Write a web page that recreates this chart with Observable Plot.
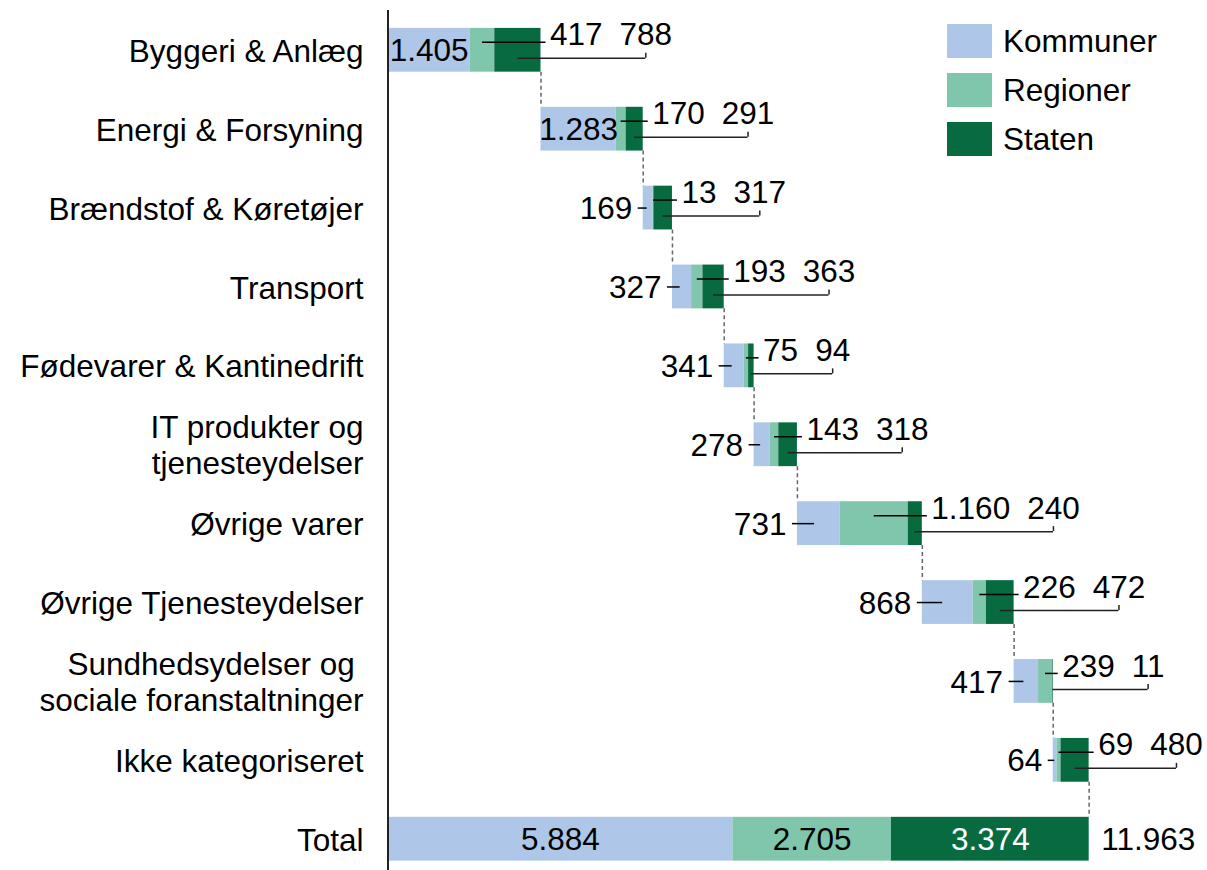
<!DOCTYPE html>
<html><head><meta charset="utf-8">
<script src="https://cdn.jsdelivr.net/npm/d3@7"></script>
<script src="https://cdn.jsdelivr.net/npm/@observablehq/plot@0.6"></script>
<style>
body{margin:0;background:#fff;font-family:"Liberation Sans",Arial,sans-serif;}
#wrap{position:relative;width:1207px;height:870px;}
#legend{position:absolute;left:947px;top:24px;}
.item{display:flex;align-items:center;height:34px;margin-bottom:15px;font-size:31.5px;color:#000;line-height:34px;}
.sw{width:45px;height:34px;margin-right:11px;}
</style></head><body><div id="wrap"><div id="chart"></div><div id="legend"></div></div>
<script>
// ---- data ----
const categories = ["Byggeri & Anlæg", "Energi & Forsyning", "Brændstof & Køretøjer", "Transport",
  "Fødevarer & Kantinedrift", "IT produkter og\ntjenesteydelser", "Øvrige varer",
  "Øvrige Tjenesteydelser", "Sundhedsydelser og\u00a0\nsociale foranstaltninger", "Ikke kategoriseret"];
const totalCategory = "Total";
const series = ["Kommuner", "Regioner", "Staten"];
const kommuner = [1405, 1283, 169, 327, 341, 278, 731, 868, 417, 64];
const regioner = [417, 170, 13, 193, 75, 143, 1160, 226, 239, 69];
const staten   = [788, 291, 317, 363, 94, 318, 240, 472, 11, 480];
const totals = [5884, 2705, 3374];
const grandTotal = 11963;
const colors = ["#AEC7E8", "#7FC6AC", "#086B40"];
const totalLabelColors = ["#000", "#000", "#fff"];

// ---- layout ----
const W = 1207, H = 870, mL = 387.5, mR = 118.3, mT = 20, mB = 1.5;
const pi = 0.445, po = 0.1;
const nRows = categories.length + 1;
const step = (H - mT - mB) / (nRows - pi + 2 * po);
const bw = step * (1 - pi);
const FS = 31.5;
const FONT = "'Liberation Sans', Arial, sans-serif";

const fmt = d3.formatLocale({decimal: ",", thousands: ".", grouping: [3], currency: ["", ""]}).format(",d");
const ctx = document.createElement("canvas").getContext("2d");
ctx.font = `${FS}px 'Liberation Sans'`;
const tw = s => ctx.measureText(s).width;

// ---- derived tables ----
const rows = [];
const starts = [], ends = [];
let cum = 0;
categories.forEach((c, i) => {
  const vals = [kommuner[i], regioner[i], staten[i]];
  starts.push(cum);
  let s = cum;
  vals.forEach((v, j) => { rows.push({cat: c, series: series[j], x1: s, x2: s + v}); s += v; });
  cum = s; ends.push(cum);
});
{
  let s = 0;
  totals.forEach((v, j) => { rows.push({cat: totalCategory, series: series[j], x1: s, x2: s + v, v}); s += v; });
}
const connectors = categories.map((c, i) => ({x: ends[i], a: c, b: i + 1 < categories.length ? categories[i + 1] : totalCategory}));

const marks = [];
marks.push(Plot.barX(rows, {x1: "x1", x2: "x2", y: "cat", fill: "series"}));
marks.push(Plot.ruleX(connectors, {x: "x", y1: "a", y2: "b", insetTop: bw, insetBottom: bw,
  stroke: "#666", strokeWidth: 1.5, strokeDasharray: "4,3"}));

categories.forEach((c, i) => {
  const start = starts[i], end = ends[i], k = kommuner[i], r = regioner[i], s = staten[i];
  const d = [{c}];
  const txt = {fontSize: FS, fontFamily: FONT, fill: "#000"};
  if (k > 1000) {
    marks.push(Plot.text(d, {x: () => start + k / 2, y: "c", text: () => fmt(k), ...txt, dy: 1}));
  } else {
    marks.push(Plot.text(d, {x: () => start, y: "c", text: () => fmt(k), textAnchor: "end", dx: -11, dy: 1, ...txt}));
    marks.push(Plot.ruleY(d, {x1: () => start, x2: () => start + 0.4 * k, y: "c", insetLeft: -5, stroke: "#000", strokeWidth: 1.5}));
  }
  const rOff = 9, sOff = 9 + tw(fmt(r)) + 17, sMid = sOff + tw(fmt(s)) / 2;
  marks.push(Plot.text(d, {x: () => end, y: "c", text: () => fmt(r), textAnchor: "start", dx: rOff, dy: -15, ...txt}));
  marks.push(Plot.text(d, {x: () => end, y: "c", text: () => fmt(s), textAnchor: "start", dx: sOff, dy: -15, ...txt}));
  marks.push(Plot.ruleY(d, {x1: () => start + k + r / 2, x2: () => end, y: "c", dy: -8, insetRight: -5, stroke: "#000", strokeWidth: 1.5}));
  marks.push(Plot.ruleY(d, {x1: () => start + k + r + s / 2, x2: () => end, y: "c", dy: 8, insetRight: -sMid, stroke: "#222", strokeWidth: 1.5}));
  marks.push(Plot.ruleX(d, {x: () => end, y1: "c", y2: "c", dx: sMid, insetTop: bw / 2 + 3, insetBottom: bw / 2 - 8, stroke: "#222", strokeWidth: 1.5}));
});

const totalRows = rows.filter(d => d.cat === totalCategory);
marks.push(Plot.text(totalRows, {x: d => (d.x1 + d.x2) / 2, y: "cat", text: d => fmt(d.v),
  fill: (d, i) => totalLabelColors[i], fontSize: FS, fontFamily: FONT, dy: 1}));
marks.push(Plot.text([grandTotal], {x: d => d, y: () => totalCategory, text: d => fmt(d), textAnchor: "start", dx: 12, dy: 1,
  fontSize: FS, fontFamily: FONT, fill: "#000"}));

marks.push(Plot.ruleX([0], {stroke: "#222", strokeWidth: 2, insetTop: -(mT - 10), insetBottom: -mB}));
marks.push(Plot.axisY({tickSize: 0, tickPadding: 24.5, fontSize: FS, fontFamily: FONT, lineHeight: 1.15, label: null}));

const plot = Plot.plot({
  width: W, height: H,
  marginLeft: mL, marginRight: mR, marginTop: mT, marginBottom: mB,
  style: {fontFamily: FONT, fontSize: FS + "px", color: "#000", background: "#fff", overflow: "visible"},
  x: {domain: [0, grandTotal], axis: null},
  y: {domain: [...categories, totalCategory], paddingInner: pi, paddingOuter: po, round: false, label: null},
  color: {domain: series, range: colors},
  marks
});
document.getElementById("chart").appendChild(plot);

const legend = document.getElementById("legend");
series.forEach((s, j) => {
  const it = document.createElement("div"); it.className = "item";
  const sw = document.createElement("div"); sw.className = "sw"; sw.style.background = colors[j];
  const lb = document.createElement("span"); lb.textContent = s;
  it.appendChild(sw); it.appendChild(lb); legend.appendChild(it);
});
</script></body></html>
